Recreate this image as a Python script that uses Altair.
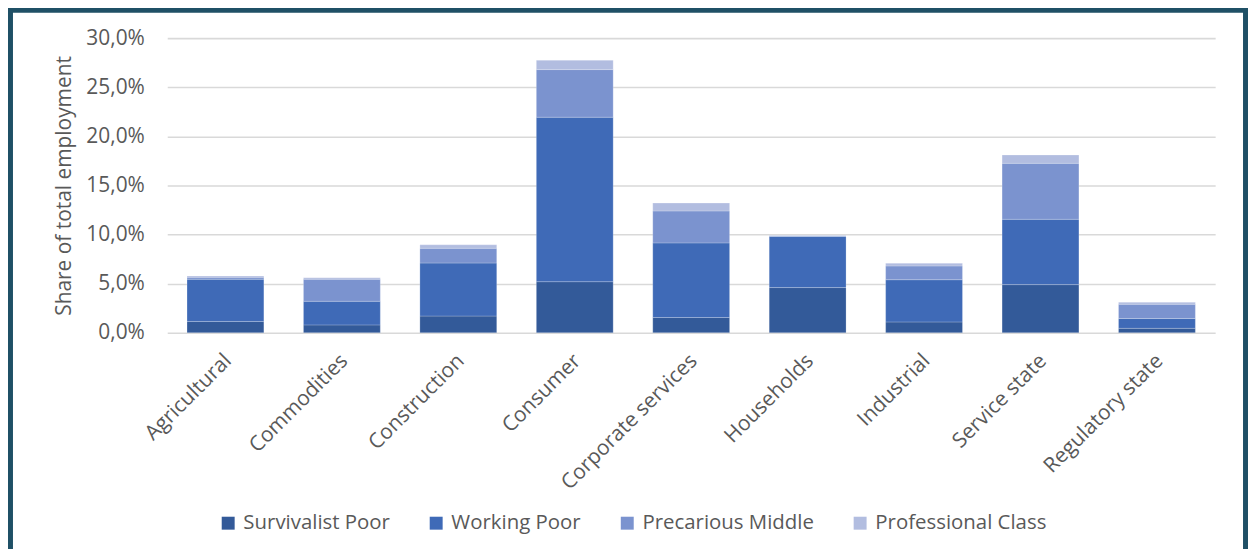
import altair as alt
import pandas as pd

categories = ["Agricultural", "Commodities", "Construction", "Consumer",
              "Corporate services", "Households", "Industrial",
              "Service state", "Regulatory state"]
groups = ["Survivalist Poor", "Working Poor", "Precarious Middle", "Professional Class"]
survivalist_poor = [1.15, 0.80, 1.70, 5.20, 1.55, 4.60, 1.10, 4.90, 0.45]
working_poor = [4.30, 2.40, 5.40, 16.75, 7.60, 5.20, 4.30, 6.65, 1.00]
precarious_middle = [0.20, 2.25, 1.50, 4.85, 3.25, 0.08, 1.40, 5.70, 1.45]
professional_class = [0.12, 0.15, 0.35, 0.95, 0.80, 0.04, 0.27, 0.85, 0.20]
colors = ["#335A99", "#3F6AB7", "#7B93CF", "#B2BDE0"]

series = [survivalist_poor, working_poor, precarious_middle, professional_class]
rows = []
for gi, (g, vals) in enumerate(zip(groups, series)):
    for c, v in zip(categories, vals):
        rows.append({"sector": c, "group": g, "share": v / 100.0, "order": gi})
df = pd.DataFrame(rows)

FONT = "Open Sans"
GREY = "#595959"
W, H = 1053, 296
PL, PT = 160, 29
TOTAL_W, TOTAL_H = 1246, 541

bars = alt.Chart(df).mark_bar(stroke="white", strokeOpacity=0.22, strokeWidth=1).encode(
    x=alt.X("sector:N", sort=categories, title=None,
            scale=alt.Scale(paddingInner=0.34, paddingOuter=0.17),
            axis=alt.Axis(labelAngle=315, labelFontSize=21, labelColor=GREY,
                          labelFont=FONT, domain=False, ticks=False, labelPadding=17,
                          labelOffset=-5, labelLimit=0)),
    y=alt.Y("share:Q", title="Share of total employment",
            scale=alt.Scale(domain=[0, 0.30], nice=False),
            axis=alt.Axis(values=[0, 0.05, 0.10, 0.15, 0.20, 0.25, 0.30],
                          labelExpr="replace(format(datum.value, '.1%'), '.', ',')",
                          labelFontSize=21, labelColor=GREY, labelFont=FONT,
                          labelPadding=23, domain=False, ticks=False,
                          grid=True, gridColor="#D9D9D9", gridWidth=1.6,
                          titleFontSize=21, titleFont=FONT, titleColor=GREY,
                          titleFontWeight="normal", titlePadding=11)),
    color=alt.Color("group:N", sort=groups,
                    scale=alt.Scale(domain=groups, range=colors),
                    legend=alt.Legend(orient="none", direction="horizontal",
                                      legendX=51, legendY=477, title=None,
                                      symbolType="square", symbolSize=169,
                                      symbolStrokeWidth=0, labelFontSize=20.5,
                                      labelFont=FONT, labelColor=GREY,
                                      labelOffset=5, columnPadding=36,
                                      labelLimit=0)),
    order=alt.Order("order:Q", sort="ascending"),
)

frame = alt.Chart(alt.Data(values=[{"k": 1}])).mark_rect(
    fill=None, filled=False, stroke="#1F5066", strokeWidth=5
).encode(
    x=alt.value(2.5 - PL), x2=alt.value(TOTAL_W - 2.5 - PL),
    y=alt.value(1 - PT), y2=alt.value(700),
)

chart = alt.layer(bars, frame).properties(
    width=W, height=H,
    padding={"left": PL, "top": PT, "right": TOTAL_W - PL - W, "bottom": TOTAL_H - PT - H},
    autosize=alt.AutoSizeParams(type="none"),
    background="white",
).configure_view(stroke=None)

chart.save("out.html", embed_options={"renderer": "svg", "actions": False})
